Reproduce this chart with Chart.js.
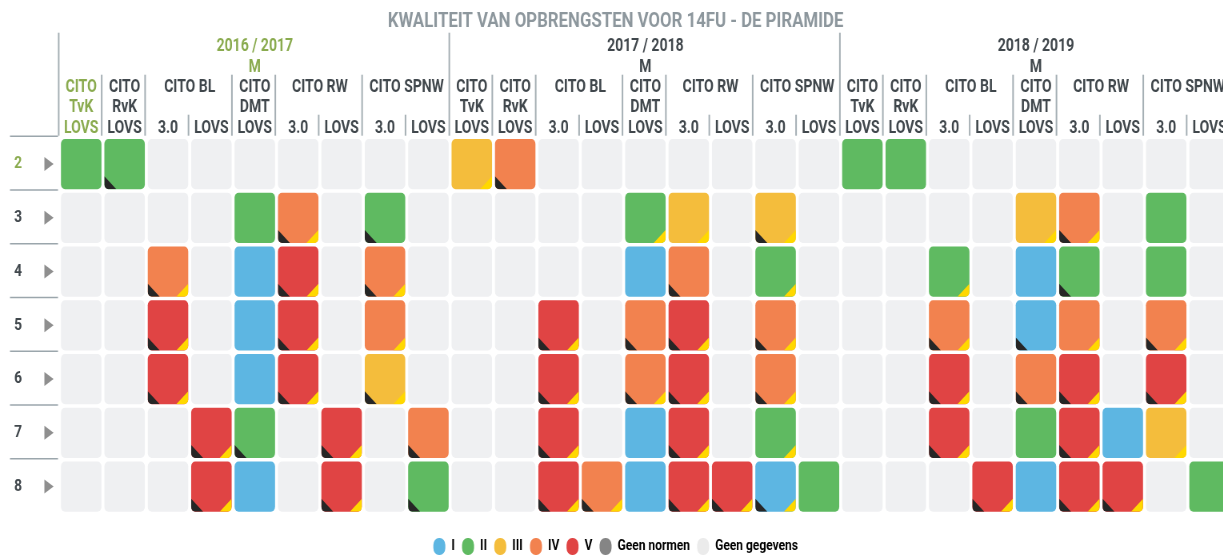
<!DOCTYPE html>
<html>
<head>
<meta charset="utf-8">
<title>Kwaliteit van opbrengsten</title>
<script src="https://cdn.jsdelivr.net/npm/chart.js@4.4.1/dist/chart.umd.min.js"></script>
<style>
    html, body { margin: 0; padding: 0; overflow: hidden; background: #fff; }
    #wrap { width: 1223px; height: 556px; overflow: hidden; }
    /* the original is drawn in a narrow font, so the whole canvas is squeezed a bit */
    #myChart { transform: scaleX(0.8); transform-origin: 0 0; }
</style>
</head>
<body>
<div id="wrap"><canvas id="myChart" width="1550" height="565"></canvas></div>
<script>
const years = ['2016 / 2017', '2017 / 2018', '2018 / 2019'];
const periods = ['M', 'M', 'M'];
const tests = [['CITO', 'TvK'], ['CITO', 'RvK'], ['CITO BL'], ['CITO', 'DMT'], ['CITO RW'], ['CITO SPNW']];
const testVersions = [['LOVS'], ['LOVS'], ['3.0', 'LOVS'], ['LOVS'], ['3.0', 'LOVS'], ['3.0', 'LOVS']];
const rowLabels = ['2', '3', '4', '5', '6', '7', '8'];

const levelNames = ['I', 'II', 'III', 'IV', 'V', 'Geen normen', 'Geen gegevens'];
const levelColors = ['#5db6e2', '#5fba61', '#f4bd3c', '#f2824f', '#e04444', '#858585', '#ebebeb'];
const emptyColor = '#eff0f2';

// 0 = geen gegevens, 1..5 = I..V (one row per groep, 9 columns per schooljaar)
const levels = [
    [2, 2, 0, 0, 0, 0, 0, 0, 0, 3, 4, 0, 0, 0, 0, 0, 0, 0, 2, 2, 0, 0, 0, 0, 0, 0, 0],
    [0, 0, 0, 0, 2, 4, 0, 2, 0, 0, 0, 0, 0, 2, 3, 0, 3, 0, 0, 0, 0, 0, 3, 4, 0, 2, 0],
    [0, 0, 4, 0, 1, 5, 0, 4, 0, 0, 0, 0, 0, 1, 4, 0, 2, 0, 0, 0, 2, 0, 1, 2, 0, 2, 0],
    [0, 0, 5, 0, 1, 5, 0, 4, 0, 0, 0, 5, 0, 4, 5, 0, 4, 0, 0, 0, 4, 0, 1, 4, 0, 4, 0],
    [0, 0, 5, 0, 1, 5, 0, 3, 0, 0, 0, 5, 0, 4, 5, 0, 4, 0, 0, 0, 5, 0, 4, 5, 0, 5, 0],
    [0, 0, 0, 5, 2, 0, 5, 0, 4, 0, 0, 5, 0, 1, 5, 0, 2, 0, 0, 0, 5, 0, 2, 5, 1, 3, 0],
    [0, 0, 0, 5, 1, 0, 5, 0, 2, 0, 0, 5, 4, 1, 5, 5, 1, 2, 0, 0, 0, 5, 1, 5, 5, 0, 2]
];

// corner marks: 1 = black corner bottom left, 2 = yellow corner bottom right, 3 = both
const corners = [
    [0, 1, 0, 0, 0, 0, 0, 0, 0, 2, 1, 0, 0, 0, 0, 0, 0, 0, 0, 0, 0, 0, 0, 0, 0, 0, 0],
    [0, 0, 0, 0, 0, 3, 0, 1, 0, 0, 0, 0, 0, 2, 2, 0, 3, 0, 0, 0, 0, 0, 2, 3, 0, 0, 0],
    [0, 0, 3, 0, 0, 3, 0, 3, 0, 0, 0, 0, 0, 0, 1, 0, 2, 0, 0, 0, 2, 0, 0, 1, 0, 0, 0],
    [0, 0, 3, 0, 0, 3, 0, 2, 0, 0, 0, 3, 0, 1, 3, 0, 3, 0, 0, 0, 3, 0, 1, 2, 0, 3, 0],
    [0, 0, 3, 0, 0, 3, 0, 3, 0, 0, 0, 3, 0, 3, 3, 0, 3, 0, 0, 0, 3, 0, 1, 3, 0, 3, 0],
    [0, 0, 0, 3, 1, 0, 3, 0, 1, 0, 0, 3, 0, 0, 3, 0, 2, 0, 0, 0, 3, 0, 0, 3, 0, 2, 0],
    [0, 0, 0, 3, 0, 0, 3, 0, 1, 0, 0, 3, 3, 0, 3, 3, 3, 0, 0, 0, 0, 3, 0, 3, 3, 0, 0]
];

const selectedRow = 0;
const selectedColumn = 0;

const green = '#8aab4f';
const textColor = '#40474c';
const lineColor = '#a5afb4';

const colLabels = [];
years.forEach(y => tests.forEach((t, ti) => testVersions[ti].forEach(v => {
    colLabels.push(y + ' ' + t.join(' ') + ' ' + v);
})));

function cellColor(lv) {
    return lv === 0 ? emptyColor : levelColors[lv - 1];
}

const datasets = rowLabels.map((label, r) => ({
    label: 'Groep ' + label,
    data: levels[r].map(() => [r - 0.467, r + 0.467]),
    backgroundColor: levels[r].map(cellColor),
    borderWidth: 0,
    borderRadius: 5,
    borderSkipped: false,
    inflateAmount: 0,
    grouped: false,
    barPercentage: 0.933,
    categoryPercentage: 1
}));

const cornerPlugin = {
    id: 'corners',
    afterDatasetsDraw(chart) {
        const ctx = chart.ctx;
        chart.data.datasets.forEach((ds, r) => {
            chart.getDatasetMeta(r).data.forEach((bar, c) => {
                const flag = corners[r][c];
                if (!flag) return;
                const { x, y, base, width } = bar.getProps(['x', 'y', 'base', 'width'], true);
                const left = x - width / 2;
                const right = x + width / 2;
                const top = Math.min(y, base);
                const bottom = Math.max(y, base);
                ctx.save();
                ctx.beginPath();
                ctx.roundRect(left, top, width, bottom - top, 5);
                ctx.clip();
                if (flag & 1) {
                    ctx.fillStyle = '#262626';
                    ctx.beginPath();
                    ctx.moveTo(left, bottom - 13);
                    ctx.lineTo(left + 15, bottom);
                    ctx.lineTo(left, bottom);
                    ctx.fill();
                }
                if (flag & 2) {
                    ctx.fillStyle = '#ffd800';
                    ctx.beginPath();
                    ctx.moveTo(right, bottom - 13);
                    ctx.lineTo(right, bottom);
                    ctx.lineTo(right - 15, bottom);
                    ctx.fill();
                }
                ctx.restore();
            });
        });
    }
};

const headerPlugin = {
    id: 'header',
    afterDraw(chart) {
        const { ctx, chartArea } = chart;
        const x = chart.scales.x;
        const y = chart.scales.y;
        const band = x.getPixelForValue(1) - x.getPixelForValue(0);
        const edge = i => x.getPixelForValue(i) - band / 2;
        const top = chartArea.top;

        const vline = (px, y0, y1) => {
            ctx.beginPath();
            ctx.moveTo(px, y0);
            ctx.lineTo(px, y1);
            ctx.stroke();
        };
        const text = (str, px, py, color) => {
            ctx.fillStyle = color;
            ctx.fillText(str, px, py);
        };

        ctx.save();
        ctx.strokeStyle = lineColor;
        ctx.lineWidth = 2;
        ctx.font = 'bold 17.5px Roboto';
        ctx.textAlign = 'center';
        ctx.textBaseline = 'middle';

        let col = 0;
        years.forEach((year, yi) => {
            const start = col;
            vline(edge(start) - 1, top - 104.5, top - 1.5);
            tests.forEach((t, ti) => {
                const n = testVersions[ti].length;
                const c0 = col;
                if (ti > 0) vline(edge(col) - 1.5, top - 62.5, top - 1.5);
                const mid = (edge(c0) + edge(c0 + n)) / 2;
                const color = c0 === selectedColumn ? green : textColor;
                t.forEach((line, li) => text(line, mid, top - 49.5 + li * 20, color));
                testVersions[ti].forEach((v, vi) => {
                    if (vi > 0) vline(edge(col) - 1.5, top - 22.5, top - 1.5);
                    text(v, x.getPixelForValue(col), top - 9, col === selectedColumn ? green : textColor);
                    col++;
                });
            });
            const ymid = (edge(start) + edge(col)) / 2;
            const yc = yi === 0 ? green : textColor;
            text(year, ymid, top - 91, yc);
            text(periods[yi], ymid, top - 70, yc);
        });

        // row separators and arrows on the left
        ctx.lineWidth = 1.5;
        ctx.strokeStyle = '#9ba6ac';
        rowLabels.forEach((label, r) => {
            const py = y.getPixelForValue(r - 0.5) - 1;
            ctx.beginPath();
            ctx.moveTo(12.5, py);
            ctx.lineTo(72.5, py);
            ctx.stroke();

            const cy = y.getPixelForValue(r);
            ctx.fillStyle = '#8f8f8f';
            ctx.beginPath();
            ctx.moveTo(55.5, cy - 7);
            ctx.lineTo(67, cy);
            ctx.lineTo(55.5, cy + 7);
            ctx.fill();
        });
        ctx.restore();
    }
};

Chart.defaults.font.family = 'Roboto';

const ctx = document.getElementById('myChart').getContext('2d');
new Chart(ctx, {
    type: 'bar',
    data: {
        labels: colLabels,
        datasets: datasets
    },
    options: {
        responsive: false,
        animation: false,
        layout: {
            padding: { left: 0, right: 10.9, top: 0, bottom: 0 }
        },
        scales: {
            x: {
                type: 'category',
                grid: { display: false },
                border: { display: false },
                ticks: { display: false },
                afterFit(scale) { scale.height = 15.5; }
            },
            y: {
                type: 'linear',
                reverse: true,
                min: -0.5,
                max: 6.5,
                grid: { display: false, drawTicks: false },
                border: { display: false },
                afterFit(scale) {
                    scale.width = 74.4;
                    scale.paddingTop = 0;
                    scale.paddingBottom = 0;
                },
                afterBuildTicks(scale) {
                    scale.ticks = rowLabels.map((l, i) => ({ value: i }));
                },
                ticks: {
                    padding: 47,
                    font: { size: 17, weight: 'bold' },
                    color: c => (c.index === selectedRow ? green : textColor),
                    callback: v => rowLabels[v]
                }
            }
        },
        plugins: {
            title: {
                display: true,
                text: 'KWALITEIT VAN OPBRENGSTEN VOOR 14FU - DE PIRAMIDE',
                color: '#8d979d',
                font: { size: 21, weight: 'bold' },
                padding: { top: 9, bottom: 103 }
            },
            tooltip: { enabled: false },
            legend: {
                position: 'bottom',
                onClick: () => {},
                labels: {
                    boxWidth: 15,
                    boxHeight: 17,
                    useBorderRadius: true,
                    borderRadius: 7,
                    padding: 9,
                    color: '#3a3f43',
                    font: { size: 15, weight: 'bold' },
                    generateLabels: () => levelNames.map((name, i) => ({
                        text: name,
                        fillStyle: levelColors[i],
                        strokeStyle: levelColors[i],
                        lineWidth: 0,
                        hidden: false,
                        borderRadius: 7
                    }))
                }
            }
        }
    },
    plugins: [cornerPlugin, headerPlugin]
});
</script>
</body>
</html>
